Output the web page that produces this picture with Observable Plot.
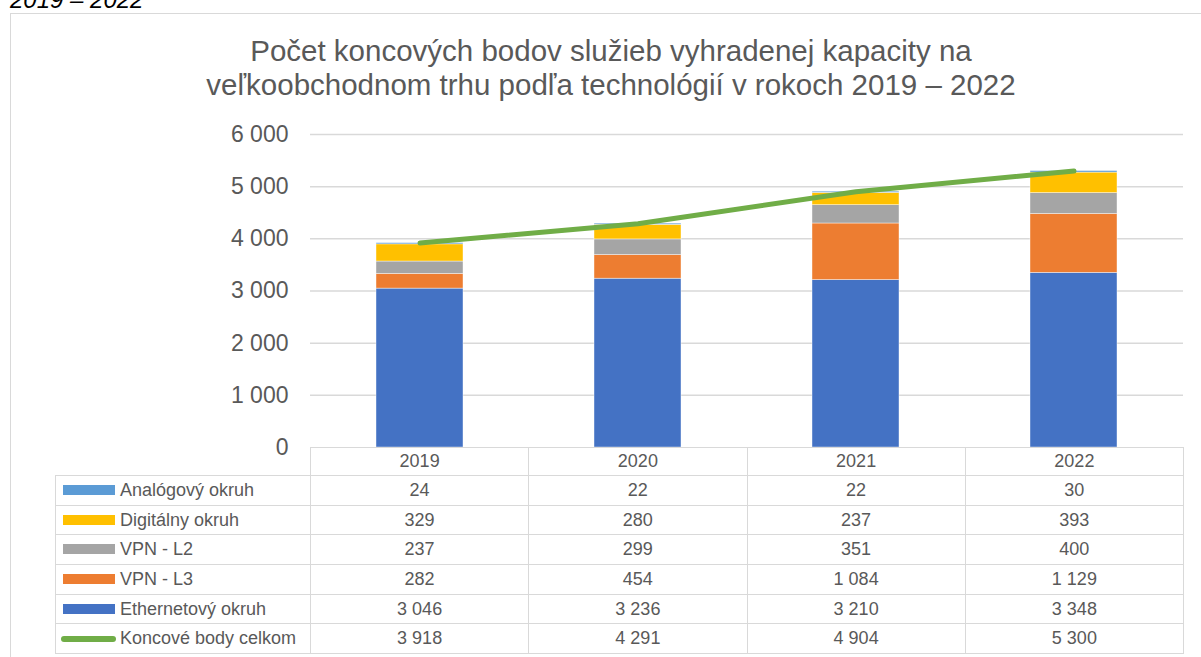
<!DOCTYPE html>
<html>
<head>
<meta charset="utf-8">
<script src="https://cdn.jsdelivr.net/npm/d3@7"></script>
<script src="https://cdn.jsdelivr.net/npm/@observablehq/plot@0.6"></script>
<style>
  html, body { margin: 0; padding: 0; background: #fff; overflow: hidden; }
  body { width: 1201px; height: 657px; position: relative; font-family: "Liberation Sans", Arial, sans-serif; color: #595959; }
  #cut { position: absolute; left: 10px; top: -12px; font-size: 24px; line-height: 24px; font-style: italic; color: #000; white-space: nowrap; }
  #frame { position: absolute; left: 10px; top: 13px; width: 1210px; height: 700px; border: 1.5px solid #d9d9d9; box-sizing: border-box; }
  #title { position: absolute; left: 0; width: 1222px; top: 34px; text-align: center; font-size: 29.5px; line-height: 34px; color: #595959; white-space: nowrap; }
  #chart { position: absolute; left: 0; top: 100px; }
  #tbl { position: absolute; left: 55px; top: 447px; border-collapse: collapse; font-size: 18px; color: #595959; table-layout: fixed; }
  #tbl td { border: 1.5px solid #d9d9d9; padding: 0; text-align: center; height: 28.7px; white-space: nowrap; }
  #tbl tr.head td { height: 27px; }
  #tbl td.blank { border-top: none; border-left: none; }
  #tbl td.lab { text-align: left; padding-left: 7px; }
  .sw { display: inline-block; width: 52px; height: 10px; vertical-align: middle; margin-right: 5px; position: relative; top: -1px; }
  .sw.line { height: 6px; border-radius: 3px; width: 55px; margin-left: -2px; margin-right: 4px; }
</style>
</head>
<body>
<div id="cut">2019 – 2022</div>
<div id="frame"></div>
<div id="title">Počet koncových bodov služieb vyhradenej kapacity na<br>veľkoobchodnom trhu podľa technológií v rokoch 2019 – 2022</div>
<div id="chart"></div>
<table id="tbl"></table>
<script>
const years = ["2019", "2020", "2021", "2022"];
const analog = [24, 22, 22, 30];
const digital = [329, 280, 237, 393];
const vpnL2 = [237, 299, 351, 400];
const vpnL3 = [282, 454, 1084, 1129];
const ethernet = [3046, 3236, 3210, 3348];
const total = [3918, 4291, 4904, 5300];
const yTicks = [0, 1000, 2000, 3000, 4000, 5000, 6000];

const seriesNames = ["Ethernetový okruh", "VPN - L3", "VPN - L2", "Digitálny okruh", "Analógový okruh"];
const seriesValues = [ethernet, vpnL3, vpnL2, digital, analog];
const seriesColors = ["#4472C4", "#ED7D31", "#A5A5A5", "#FFC000", "#5B9BD5"];
const totalName = "Koncové body celkom";
const totalColor = "#70AD47";

const fmt = v => d3.format(",")(v).replace(/,/g, " ");

const barData = [];
years.forEach((yr, i) => {
  seriesNames.forEach((s, j) => barData.push({year: yr, series: s, value: seriesValues[j][i]}));
});
const lineData = years.map((yr, i) => ({year: yr, total: total[i]}));

const plot = Plot.plot({
  width: 1201,
  height: 367,
  marginTop: 34,
  marginBottom: 20,
  marginLeft: 310,
  marginRight: 18,
  style: {fontFamily: "'Liberation Sans', Arial, sans-serif", fontSize: "23px", color: "#595959", background: "transparent", overflow: "visible"},
  x: {domain: years, paddingInner: 0.6, paddingOuter: 0.3, axis: null},
  y: {domain: [0, 6000], axis: null},
  color: {domain: seriesNames, range: seriesColors},
  marks: [
    Plot.gridY(yTicks.filter(d => d > 0), {stroke: "#d9d9d9", strokeOpacity: 1, strokeWidth: 1.5}),
    Plot.axisY(yTicks, {tickSize: 0, tickPadding: 22, tickFormat: fmt, fontSize: 23, fill: "#595959"}),
    Plot.barY(barData, {x: "year", y: "value", fill: "series", stroke: "#ffffff", strokeWidth: 0.6, strokeOpacity: 0.7}),
    Plot.line(lineData, {x: "year", y: "total", stroke: totalColor, strokeWidth: 5, strokeLinecap: "round", strokeLinejoin: "round"})
  ]
});
document.getElementById("chart").appendChild(plot);

// data table
const tbl = document.getElementById("tbl");
const colW = [255, 218.25, 218.25, 218.25, 218.25];
const cg = document.createElement("colgroup");
colW.forEach(w => { const c = document.createElement("col"); c.style.width = w + "px"; cg.appendChild(c); });
tbl.appendChild(cg);
const head = document.createElement("tr");
head.className = "head";
const b = document.createElement("td"); b.className = "blank"; head.appendChild(b);
years.forEach(y => { const td = document.createElement("td"); td.textContent = y; head.appendChild(td); });
tbl.appendChild(head);
const rows = [];
for (let j = seriesNames.length - 1; j >= 0; j--) rows.push({name: seriesNames[j], color: seriesColors[j], vals: seriesValues[j], line: false});
rows.push({name: totalName, color: totalColor, vals: total, line: true});
rows.forEach(r => {
  const tr = document.createElement("tr");
  const lab = document.createElement("td"); lab.className = "lab";
  const sw = document.createElement("span"); sw.className = "sw" + (r.line ? " line" : ""); sw.style.background = r.color;
  lab.appendChild(sw); lab.appendChild(document.createTextNode(r.name));
  tr.appendChild(lab);
  r.vals.forEach(v => { const td = document.createElement("td"); td.textContent = fmt(v); tr.appendChild(td); });
  tbl.appendChild(tr);
});
</script>
</body>
</html>
